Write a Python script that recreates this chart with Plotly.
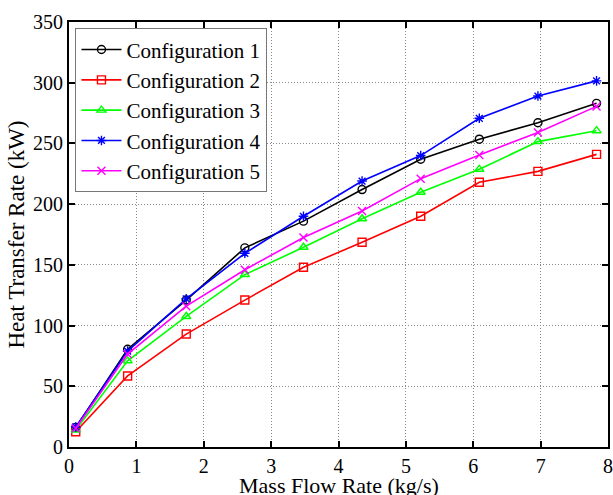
import plotly.graph_objects as go

mass_flow = [0.1, 0.87, 1.74, 2.61, 3.48, 4.35, 5.22, 6.09, 6.96, 7.83]
config1 = [16, 80.5, 121, 164, 186, 212, 237, 253.5, 267, 283]
config2 = [12.6, 58.5, 93, 121, 148, 168.6, 190, 218, 227, 241]
config3 = [14, 71, 107.5, 142, 164.5, 188, 209.8, 228.7, 251.5, 260.5]
config4 = [16.5, 79, 122, 159.5, 190, 219, 240, 270.7, 289, 301.5]
config5 = [15.5, 76.5, 116, 146, 172.5, 194.4, 221, 240.5, 259, 280.5]

names = ["Configuration 1", "Configuration 2", "Configuration 3", "Configuration 4", "Configuration 5"]
series = [config1, config2, config3, config4, config5]
colors = ["#000000", "#ff0000", "#00ff00", "#0000ff", "#ff00ff"]
symbols = ["circle-open", "square-open", "triangle-up-open", "asterisk-open", "x-thin-open"]

fig = go.Figure()
for name, ys, c, s in zip(names, series, colors, symbols):
    fig.add_trace(go.Scatter(
        x=mass_flow, y=ys, name=name, mode="lines+markers",
        line=dict(color=c, width=1.6),
        marker=dict(symbol=s, size=8, color=c, line=dict(color=c, width=1.4)),
    ))

font_family = "'Liberation Serif', 'Times New Roman', Times, serif"
axis_common = dict(
    showline=True, linecolor="black", linewidth=2, mirror="ticks",
    ticks="inside", ticklen=6, tickwidth=2, tickcolor="black",
    showgrid=True, gridcolor="#888888", griddash="1px,2px", gridwidth=1,
    zeroline=False, automargin=False,
    tickfont=dict(family=font_family, size=20, color="black"),
)
fig.update_xaxes(range=[0, 8], dtick=1, tick0=0, **axis_common)
fig.update_yaxes(range=[0, 350], dtick=50, tick0=0,
                 title=dict(text="Heat Transfer Rate (kW)", font=dict(family=font_family, size=23, color="black"), standoff=2),
                 **axis_common)

fig.add_annotation(
    text="Mass Flow Rate (kg/s)", xref="paper", yref="paper", x=0.5, y=0,
    xanchor="center", yanchor="top", yshift=-24, showarrow=False,
    font=dict(family=font_family, size=22, color="black"),
)

fig.update_layout(
    width=613, height=495,
    margin=dict(l=69, r=5, t=22, b=48),
    paper_bgcolor="white", plot_bgcolor="white",
    font=dict(family=font_family, color="black"),
    legend=dict(
        x=0.012, y=0.985, xanchor="left", yanchor="top",
        bgcolor="white", bordercolor="#777777", borderwidth=1,
        font=dict(family=font_family, size=21, color="black"),
        tracegroupgap=0, itemwidth=40,
    ),
    showlegend=True,
)

fig.write_html("out.html", config={"displayModeBar": False},
               post_script="document.body.style.margin='0';document.body.style.overflow='hidden';")
